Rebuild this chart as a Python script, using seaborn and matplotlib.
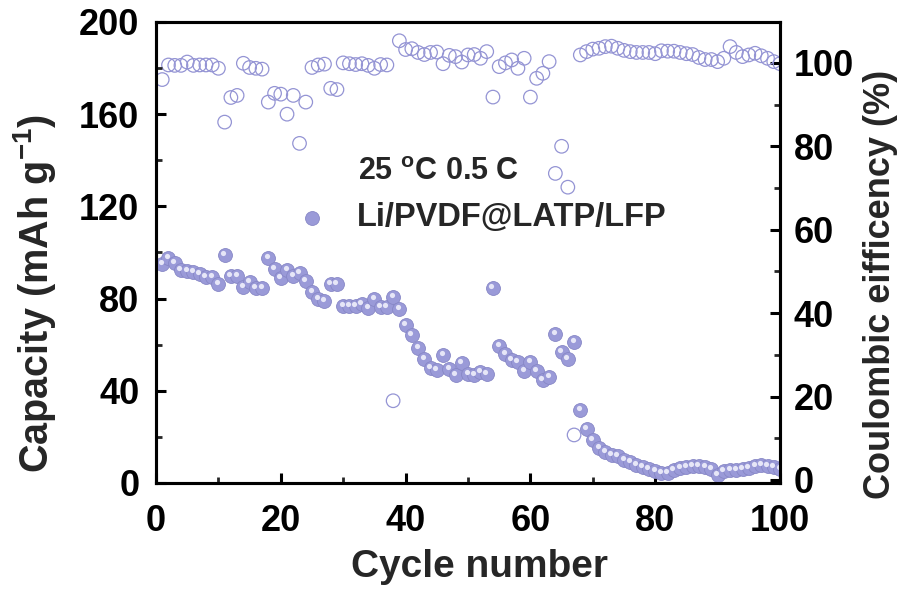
import matplotlib
matplotlib.use("Agg")
import matplotlib.pyplot as plt
import seaborn as sns
import pandas as pd
from matplotlib.ticker import MultipleLocator
from matplotlib.transforms import ScaledTranslation

cycles = list(range(1, 101))
capacity = [95, 97.5, 95.5, 92.5, 92, 91.5, 90.5, 89.5, 89.5, 86.5,
            99, 90, 90, 85, 87, 84.5, 84.5, 97.5, 93, 89,
            92.5, 90, 91, 87.5, 83, 80, 79, 86.5, 86.5, 77,
            77, 77, 77.5, 76, 80, 76.5, 76.5, 80.5, 75.5, 68.5,
            64, 58.5, 54, 50, 49, 55.5, 49.5, 47, 52, 47.5,
            47, 48, 47.5, 84.5, 59.5, 56, 53.5, 52.5, 48.5, 52.5,
            48.5, 44.5, 46, 64.5, 57, 54, 61, 31.5, 23.5, 18.5,
            15, 13.5, 12, 11.5, 10, 9, 8, 7, 6, 5,
            4.5, 4.5, 5.5, 6.5, 7, 7.5, 7.5, 7, 6, 3.5,
            5, 5.5, 5.5, 6, 6.5, 7.5, 8, 7.5, 7, 6]
efficiency = [96, 99.5, 99.4, 99.4, 100.2, 99.4, 99.5, 99.5, 99.5, 98.7,
              85.8, 91.7, 92.2, 99.9, 98.9, 98.7, 98.5, 90.6, 92.7, 92.5,
              87.7, 92.2, 80.7, 90.6, 98.9, 99.5, 99.7, 93.9, 93.6, 100,
              99.8, 99.6, 99.8, 99.4, 98.7, 99.6, 99.5, 19, 105.3, 103.2,
              103.4, 102.5, 102, 102.5, 102.6, 99.8, 101.8, 101.5, 100.2, 101.9,
              102, 101.1, 102.7, 91.8, 99.1, 100, 100.7, 98.7, 101.1, 91.8,
              96.3, 97.5, 100.3, 73.5, 80, 70.2, 10.8, 101.9, 102.7, 103.3,
              103.5, 103.9, 104, 103.5, 103, 102.7, 102.5, 102.5, 102.5, 102.2,
              102.9, 102.8, 102.8, 102.5, 102.2, 102, 101.3, 100.8, 100.8, 100.3,
              101.1, 103.9, 102.5, 101.5, 101.9, 102.3, 101.7, 101.1, 100.3, 99.8]
series_label = "Li/PVDF@LATP/LFP"
condition_text = "25 $^{\\mathrm{o}}$C 0.5 C"
xlabel = "Cycle number"
ylabel_left = "Capacity (mAh g$^{-1}$)"
ylabel_right = "Coulombic eifficency (%)"

df = pd.DataFrame({"cycle": cycles, "capacity": capacity, "efficiency": efficiency})

sns.set_theme(style="white")
plt.rcParams["font.family"] = ["Liberation Sans", "DejaVu Sans"]
plt.rcParams["font.weight"] = "bold"
plt.rcParams["mathtext.fontset"] = "custom"
plt.rcParams["mathtext.rm"] = "Liberation Sans:bold"
plt.rcParams["mathtext.it"] = "Liberation Sans:bold"
plt.rcParams["mathtext.bf"] = "Liberation Sans:bold"

fill_col = "#9a9ad8"
edge_col = "#9494d4"

fig = plt.figure(figsize=(9.01, 5.90), dpi=100)
ax = fig.add_axes([156 / 901, 1 - 483 / 590, 624 / 901, 461 / 590])
ax2 = ax.twinx()

# open circles: coulombic efficiency
sns.scatterplot(data=df, x="cycle", y="efficiency", ax=ax2, s=95, marker="o",
                color="none", edgecolor=edge_col, linewidth=0.9, legend=False)
coll = ax2.collections[0]
coll.set_facecolor("none")
coll.set_edgecolor(edge_col)

# filled spheres: capacity
sns.scatterplot(data=df, x="cycle", y="capacity", ax=ax, s=100, marker="o",
                color=fill_col, edgecolor="#8787c6", linewidth=0.6, legend=False)
sns.scatterplot(data=df, x="cycle", y="capacity", ax=ax, s=14, marker="o",
                color="#e6e6f7", linewidth=0, legend=False)
h_base = ax.collections[0]
h_hi = ax.collections[1]
h_hi.set_offset_transform(ax.transData + ScaledTranslation(-1.5 / 100, 2.0 / 100, fig.dpi_scale_trans))

ax.set_zorder(ax2.get_zorder() + 1)
ax.patch.set_visible(False)

ax.set_xlim(0, 100)
ax.set_ylim(0, 200)
ax2.set_ylim(-0.72, 109.8)

ax.xaxis.set_major_locator(MultipleLocator(20))
ax.xaxis.set_minor_locator(MultipleLocator(10))
ax.yaxis.set_major_locator(MultipleLocator(40))
ax.yaxis.set_minor_locator(MultipleLocator(20))
ax2.yaxis.set_major_locator(MultipleLocator(20))
ax2.yaxis.set_minor_locator(MultipleLocator(10))

for a in (ax, ax2):
    for sp in a.spines.values():
        sp.set_linewidth(2.2)
        sp.set_color("black")

ax.tick_params(axis="both", which="major", direction="in", length=7, width=2.2,
               labelsize=26, colors="black", top=False, right=False, bottom=True, left=True)
ax.tick_params(axis="both", which="minor", direction="in", length=4, width=2.0,
               top=False, right=False, bottom=True, left=True)
ax.tick_params(axis="y", which="major", pad=12)
ax.tick_params(axis="x", which="major", pad=15)
ax2.tick_params(axis="y", which="major", direction="in", length=7, width=2.2,
                labelsize=26, colors="black", right=True, pad=10)
ax2.tick_params(axis="y", which="minor", direction="in", length=4, width=2.0, right=True)

for lbl in ax.get_xticklabels() + ax.get_yticklabels() + ax2.get_yticklabels():
    lbl.set_fontweight("bold")

ax.set_xlabel(xlabel, fontsize=28, fontweight="bold")
ax.set_ylabel(ylabel_left, fontsize=28.5, fontweight="bold")
ax2.set_ylabel(ylabel_right, fontsize=26, fontweight="bold")
ax.xaxis.set_label_coords(0.519, -0.143)
ax.yaxis.set_label_coords(-0.157, 0.41)
ax2.yaxis.set_label_coords(1.133, 0.43)
ax.grid(False)
ax2.grid(False)

leg = ax.legend(handles=[h_base], labels=[series_label],
                loc="center left", bbox_to_anchor=(296 / 901, 1 - 218 / 590),
                bbox_transform=fig.transFigure, frameon=False, fontsize=23.5,
                handlelength=1.0, handletextpad=0.85, borderpad=0, borderaxespad=0,
                scatterpoints=1)
for t in leg.get_texts():
    t.set_fontweight("bold")

fig.text(358 / 901, 1 - 172 / 590, condition_text, fontsize=22, fontweight="bold",
         ha="left", va="center")

fig.savefig("out.png", dpi=100, facecolor="white")
